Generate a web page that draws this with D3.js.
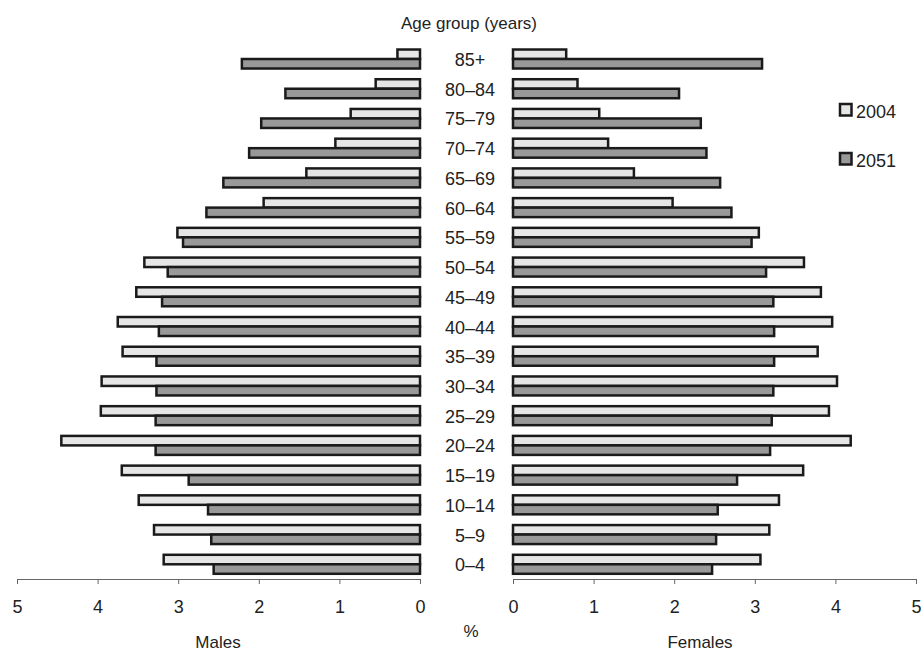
<!DOCTYPE html>
<html>
<head>
<meta charset="utf-8">
<script src="https://cdn.jsdelivr.net/npm/d3@7"></script>
<style>
  html, body { margin: 0; padding: 0; background: #fff; }
  svg { display: block; font-family: "Liberation Sans", Arial, sans-serif; }
</style>
</head>
<body>
<svg id="chart" width="921" height="653"></svg>
<script>
const ageGroups = ["85+","80–84","75–79","70–74","65–69","60–64","55–59","50–54","45–49","40–44","35–39","30–34","25–29","20–24","15–19","10–14","5–9","0–4"];
const males2004   = [0.28,0.55,0.86,1.05,1.41,1.94,3.01,3.42,3.52,3.75,3.69,3.95,3.96,4.45,3.70,3.49,3.30,3.18];
const males2051   = [2.21,1.67,1.97,2.12,2.44,2.65,2.94,3.13,3.20,3.24,3.27,3.27,3.28,3.28,2.87,2.63,2.59,2.56];
const females2004 = [0.66,0.80,1.07,1.18,1.50,1.98,3.05,3.61,3.82,3.96,3.78,4.02,3.92,4.19,3.60,3.30,3.18,3.07];
const females2051 = [3.09,2.06,2.33,2.40,2.57,2.71,2.96,3.14,3.23,3.24,3.24,3.23,3.21,3.19,2.78,2.54,2.52,2.47];
const xTicks = [0,1,2,3,4,5];
const seriesNames = ["2004","2051"];

const colors = {"2004": "#e6e6e6", "2051": "#999999"};
const strokeCol = "#1a1a1a";

const svg = d3.select("#chart");

const xLeft = d3.scaleLinear().domain([0,5]).range([420, 17]);
const xRight = d3.scaleLinear().domain([0,5]).range([513, 916]);
const y = d3.scaleBand().domain(ageGroups).range([44.15, 579.15]).padding(0);
const barH = 9.5;
const axisY = 579;

function center(g){ return y(g) + y.bandwidth()/2; }

// Title
svg.append("text").attr("x", 469).attr("y", 29).attr("text-anchor","middle")
  .attr("font-size", 17).attr("fill","#222").text("Age group (years)");

const data = ageGroups.map((g,i)=>({g, m04: males2004[i], m51: males2051[i], f04: females2004[i], f51: females2051[i]}));

const bars = svg.append("g").attr("stroke", strokeCol).attr("stroke-width", 2.5);

// Males
bars.selectAll("rect.m04").data(data).join("rect").attr("class","m04")
  .attr("x", d=>xLeft(d.m04)).attr("width", d=>xLeft(0)-xLeft(d.m04))
  .attr("y", d=>center(d.g)-barH).attr("height", barH).attr("fill", colors["2004"]);
bars.selectAll("rect.m51").data(data).join("rect").attr("class","m51")
  .attr("x", d=>xLeft(d.m51)).attr("width", d=>xLeft(0)-xLeft(d.m51))
  .attr("y", d=>center(d.g)).attr("height", barH).attr("fill", colors["2051"]);
// Females
bars.selectAll("rect.f04").data(data).join("rect").attr("class","f04")
  .attr("x", xRight(0)).attr("width", d=>xRight(d.f04)-xRight(0))
  .attr("y", d=>center(d.g)-barH).attr("height", barH).attr("fill", colors["2004"]);
bars.selectAll("rect.f51").data(data).join("rect").attr("class","f51")
  .attr("x", xRight(0)).attr("width", d=>xRight(d.f51)-xRight(0))
  .attr("y", d=>center(d.g)).attr("height", barH).attr("fill", colors["2051"]);

// Age labels
svg.append("g").selectAll("text").data(ageGroups).join("text")
  .attr("x", 470).attr("y", d=>center(d)+7).attr("text-anchor","middle")
  .attr("font-size", 18).attr("fill","#222").text(d=>d);

// Axes
function styleAxis(g){
  g.select(".domain").attr("stroke","#666").attr("stroke-width",1);
  g.selectAll(".tick line").attr("stroke","#666").attr("stroke-width",1);
  g.selectAll(".tick text").attr("font-size",18).attr("fill","#222")
    .attr("font-family",'"Liberation Sans", Arial, sans-serif');
}
const axL = svg.append("g").attr("transform",`translate(0,${axisY})`)
  .call(d3.axisBottom(xLeft).tickValues(xTicks).tickFormat(d3.format("d")).tickSizeInner(5).tickSizeOuter(0).tickPadding(16));
styleAxis(axL);
const axR = svg.append("g").attr("transform",`translate(0,${axisY})`)
  .call(d3.axisBottom(xRight).tickValues(xTicks).tickFormat(d3.format("d")).tickSizeInner(5).tickSizeOuter(0).tickPadding(16));
styleAxis(axR);

// Axis titles
svg.append("text").attr("x", 218).attr("y", 648).attr("text-anchor","middle")
  .attr("font-size",17).attr("fill","#222").text("Males");
svg.append("text").attr("x", 700).attr("y", 648).attr("text-anchor","middle")
  .attr("font-size",17).attr("fill","#222").text("Females");
svg.append("text").attr("x", 471).attr("y", 637).attr("text-anchor","middle")
  .attr("font-size",17).attr("fill","#222").text("%");

// Legend
const legY = [104, 153];
const leg = svg.append("g");
seriesNames.forEach((s,i)=>{
  leg.append("rect").attr("x", 840).attr("y", legY[i]).attr("width", 11.5).attr("height", 11.5)
    .attr("fill", colors[s]).attr("stroke", strokeCol).attr("stroke-width", 2.5);
  leg.append("text").attr("x", 856).attr("y", legY[i]+13.5).attr("font-size",18)
    .attr("fill","#222").text(s);
});
</script>
</body>
</html>
